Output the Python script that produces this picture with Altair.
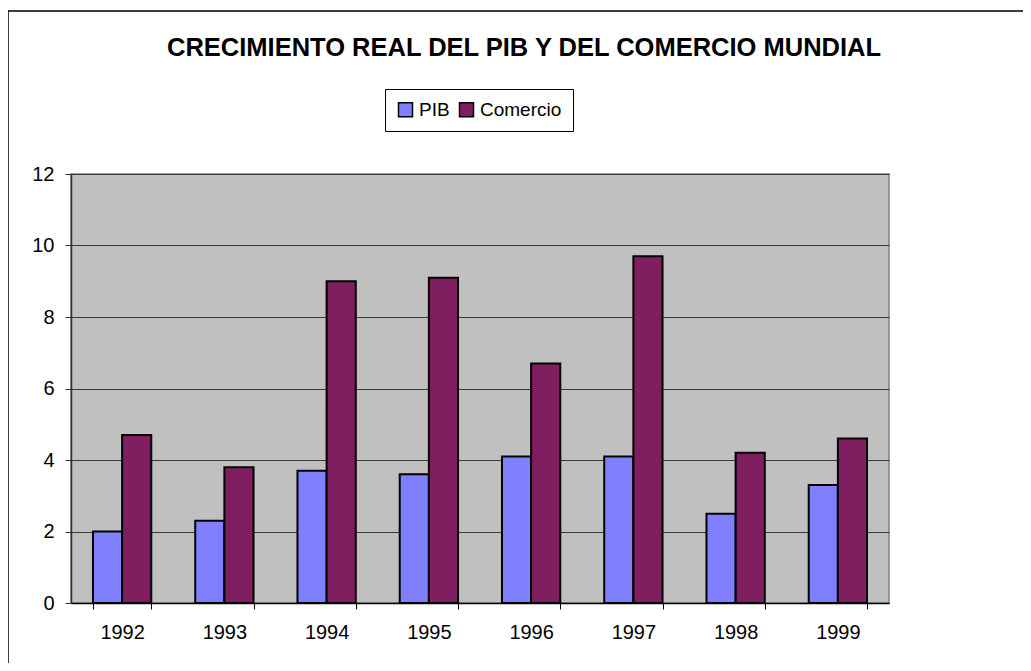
import altair as alt
import pandas as pd

years = ["1992", "1993", "1994", "1995", "1996", "1997", "1998", "1999"]
pib = [2.0, 2.3, 3.7, 3.6, 4.1, 4.1, 2.5, 3.3]
comercio = [4.7, 3.8, 9.0, 9.1, 6.7, 9.7, 4.2, 4.6]
series = ["PIB", "Comercio"]
colors = ["#8080FF", "#7F1F5F"]
y_ticks = [0, 2, 4, 6, 8, 10, 12]

rows = []
for i, yr in enumerate(years):
    rows.append({"year": yr, "serie": "PIB", "valor": pib[i]})
    rows.append({"year": yr, "serie": "Comercio", "valor": comercio[i]})
df = pd.DataFrame(rows)

FONT = "Liberation Sans"
W, H = 818, 429

bars = alt.Chart(df).mark_bar(stroke="black", strokeWidth=2).encode(
    x=alt.X(
        "year:N",
        sort=years,
        scale=alt.Scale(paddingInner=0.43, paddingOuter=0.215),
        axis=alt.Axis(
            title=None,
            labelAngle=0,
            tickBand="extent",
            tickSize=6,
            tickColor="black",
            domainColor="black",
            domainWidth=1.5,
            labelPadding=13,
            labelFontSize=20,
            labelFont=FONT,
            labelColor="black",
            grid=False,
        ),
    ),
    xOffset=alt.XOffset("serie:N", sort=series),
    y=alt.Y(
        "valor:Q",
        scale=alt.Scale(domain=[0, 12], nice=False),
        axis=alt.Axis(
            title=None,
            values=y_ticks,
            grid=True,
            gridColor="#3a3a3a",
            gridWidth=1.2,
            tickSize=6,
            tickColor="#333333",
            domainColor="#333333",
            domainWidth=1.5,
            labelPadding=11,
            labelFontSize=20,
            labelFont=FONT,
            labelColor="black",
        ),
    ),
    color=alt.Color(
        "serie:N",
        sort=series,
        scale=alt.Scale(domain=series, range=colors),
        legend=alt.Legend(
            title=None,
            orient="none",
            legendX=314,
            legendY=-85,
            direction="horizontal",
            fillColor="white",
            strokeColor="black",
            padding=11,
            symbolType="square",
            symbolSize=196,
            symbolStrokeColor="black",
            symbolStrokeWidth=1.5,
            labelFontSize=19,
            labelFont=FONT,
            labelColor="black",
            labelOffset=4,
            columnPadding=6,
        ),
    ),
)

frame = alt.Chart(alt.Data(values=[{}])).mark_rect(
    fill=None, stroke="black", strokeWidth=1.5
).encode(
    x=alt.value(-63), x2=alt.value(W + 300),
    y=alt.value(-163), y2=alt.value(H + 200),
)

chart = alt.layer(frame, bars).properties(
    width=W,
    height=H,
    title=alt.Title(
        "CRECIMIENTO REAL DEL PIB Y DEL COMERCIO MUNDIAL",
        font=FONT,
        fontSize=25.5,
        fontWeight="bold",
        color="black",
        anchor="middle",
        dx=44,
        dy=61,
        offset=10,
    ),
    autosize=alt.AutoSizeParams(type="none"),
    padding={"left": 63, "top": 166, "right": 134, "bottom": 60},
).configure(
    background="white"
).configure_view(
    fill="#C0C0C0", stroke="#808080", strokeWidth=1.5
)

chart.save("out.html", embed_options={"renderer": "svg", "actions": False})
